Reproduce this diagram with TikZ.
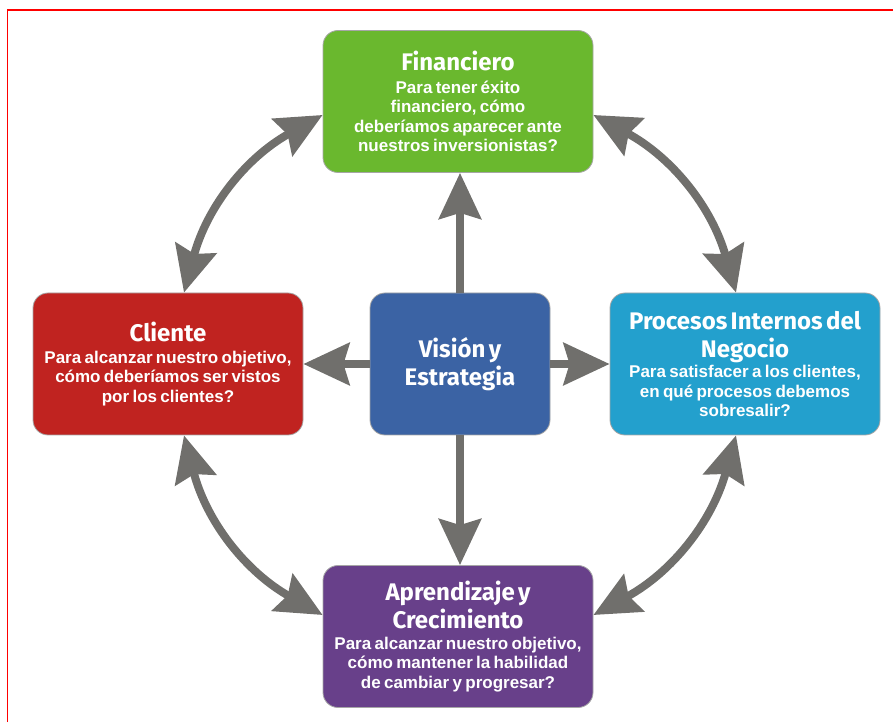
\documentclass[tikz,border=0pt]{standalone}
\usepackage{fontspec}
\setmainfont{Liberation Sans}
\newfontfamily\ttlfont{Fira Sans}
\usetikzlibrary{arrows.meta}

\definecolor{fingreen}{HTML}{6AB82E}
\definecolor{clired}{HTML}{C02320}
\definecolor{visblue}{HTML}{3B63A4}
\definecolor{procyan}{HTML}{23A0CD}
\definecolor{aprpurple}{HTML}{68408A}
\definecolor{flechagray}{HTML}{706F6C}

\newcommand\ttl{\ttlfont\bfseries\fontsize{24}{28}\selectfont}
\newcommand\bdy{\normalfont\bfseries\fontsize{17}{19.5}\selectfont}

\tikzset{
  box/.style={rounded corners=15pt, minimum width=270pt, minimum height=142pt,
    text width=264pt, align=center, text=white, draw=gray!70, line width=0.8pt, inner sep=0pt},
  pico/.tip={Stealth[length=46pt,width=42pt,inset=6pt]},
  flecha/.style={draw=flechagray, line width=8pt, -pico},
  dflecha/.style={draw=flechagray, line width=8pt, pico-pico}
}

\begin{document}
\begin{tikzpicture}[x=1pt,y=1pt]
  \useasboundingbox (0,0) rectangle (893,722);
  % marco rojo
  \draw[red, line width=1.5pt] (7.5,0) -- (7.5,712) -- (893,712);

  % cajas
  \node[box, fill=visblue, minimum width=180pt, text width=170pt] (vis) at (460,358)
    {\ttl Visión y\\Estrategia\par};
  \node[box, fill=fingreen] (fin) at (458,620.5)
    {\ttl Financiero\par\vskip3pt
     \bdy Para tener éxito\\financiero, cómo\\deberíamos aparecer ante\\nuestros inversionistas?\par};
  \node[box, fill=clired] (cli) at (168,358)
    {\ttl Cliente\par\vskip2pt
     \bdy Para alcanzar nuestro objetivo,\\cómo deberíamos ser vistos\\por los clientes?\par};
  \node[box, fill=procyan] (pro) at (745,358)
    {\ttl Procesos Internos del\\Negocio\par\vskip1pt
     \bdy Para satisfacer a los clientes,\\en qué procesos debemos\\sobresalir?\par};
  \node[box, fill=aprpurple] (apr) at (458,85.5)
    {\ttl Aprendizaje y\\Crecimiento\par\vskip1pt
     \bdy Para alcanzar nuestro objetivo,\\cómo mantener la habilidad\\de cambiar y progresar?\par};

  % flechas rectas
  \draw[flecha] (vis.north) -- (vis.north |- fin.south);
  \draw[flecha] (vis.south) -- (vis.south |- apr.north);
  \draw[flecha] (vis.west) -- (cli.east);
  \draw[flecha] (vis.east) -- (pro.west);

  % flechas curvas
  \draw[dflecha] ([yshift=-13.5pt]fin.west) to[bend right=23] ([xshift=16pt]cli.north);
  \draw[dflecha] ([yshift=-13.5pt]fin.east) to[bend left=23] ([xshift=-9pt]pro.north);
  \draw[dflecha] ([xshift=16pt]cli.south) to[bend right=23] ([yshift=21.5pt]apr.west);
  \draw[dflecha] ([xshift=-9pt]pro.south) to[bend left=23] ([yshift=21.5pt]apr.east);
\end{tikzpicture}
\end{document}
